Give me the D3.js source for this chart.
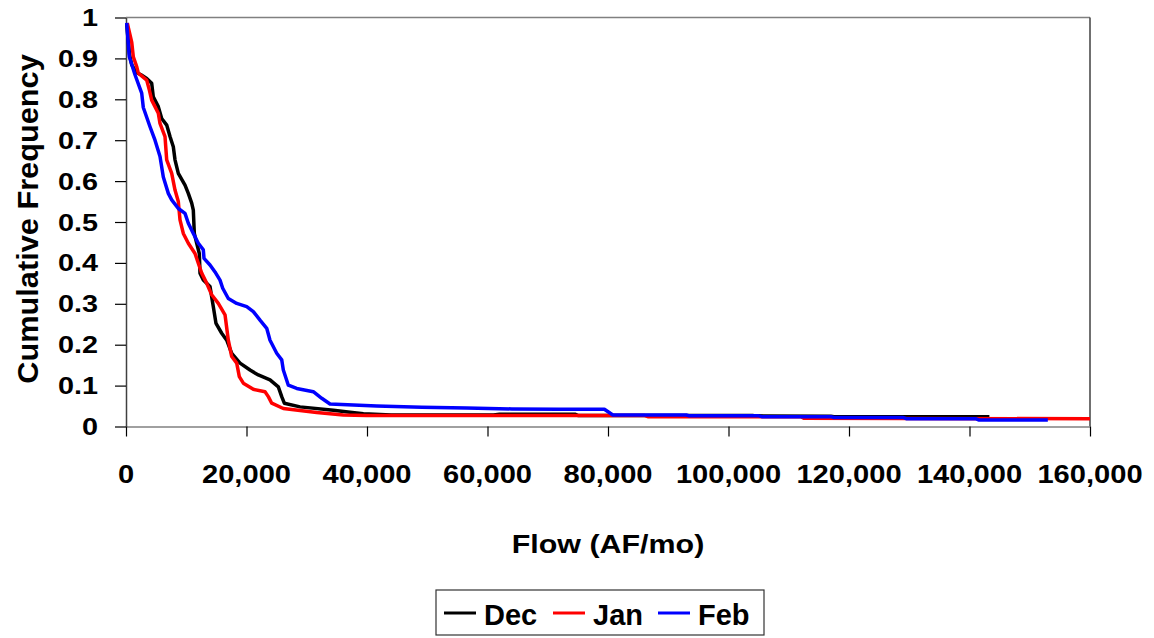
<!DOCTYPE html>
<html>
<head>
<meta charset="utf-8">
<script src="https://cdn.jsdelivr.net/npm/d3@7"></script>
<style>
  html, body { margin: 0; padding: 0; background: #fff; }
  svg { display: block; }
  text { font-family: "Liberation Sans", Arial, sans-serif; font-weight: bold; fill: #000; }
</style>
</head>
<body>
<svg id="chart" width="1154" height="638"></svg>
<script>
// Monthly flow exceedance curves (AF/mo) vs cumulative frequency
const decFlow = [116, 332, 581, 946, 1660, 2490, 3436, 4266, 4532, 5362, 5926, 6756, 7304, 7852, 8134, 8682,
  9794, 10342, 10906, 11172, 11338, 11736, 12168, 12284, 12832, 13944, 14492, 14940, 15886, 16716, 17546,
  18924, 20584, 21962, 23904, 25282, 25846, 26278, 28884, 34412, 37184, 39400, 44000, 61000, 62000, 74500,
  75000, 104000, 104500, 117000, 117500, 143300];
const decFreq = [0.985, 0.95, 0.91, 0.885, 0.866, 0.86, 0.851, 0.839, 0.806, 0.782, 0.753, 0.737, 0.709, 0.684,
  0.652, 0.619, 0.59, 0.57, 0.546, 0.529, 0.472, 0.448, 0.423, 0.375, 0.358, 0.342, 0.293, 0.252, 0.228, 0.211,
  0.179, 0.155, 0.138, 0.126, 0.114, 0.097, 0.073, 0.057, 0.048, 0.040, 0.035, 0.031, 0.028, 0.028, 0.030, 0.030,
  0.027, 0.027, 0.026, 0.025, 0.024, 0.024];

const janFlow = [216, 946, 1212, 1776, 2042, 3436, 3868, 4266, 5362, 5644, 6474, 6756, 7586, 8134, 8682, 8964,
  9512, 10342, 11454, 12002, 12566, 13396, 14226, 15322, 16434, 16982, 17546, 18376, 18808, 19472, 21132,
  23074, 23622, 24186, 26112, 31656, 36072, 39956, 86000, 86600, 112000, 112500, 160000];
const janFreq = [0.986, 0.94, 0.904, 0.88, 0.864, 0.847, 0.823, 0.798, 0.766, 0.741, 0.709, 0.652, 0.619, 0.578,
  0.55, 0.505, 0.472, 0.448, 0.423, 0.399, 0.375, 0.350, 0.322, 0.301, 0.273, 0.211, 0.171, 0.155, 0.122, 0.106,
  0.091, 0.085, 0.073, 0.057, 0.044, 0.034, 0.028, 0.027, 0.027, 0.024, 0.024, 0.020, 0.019];

const febFlow = [116, 548, 1494, 2606, 2872, 3984, 4814, 5644, 6192, 7022, 7586, 8682, 9794, 10342, 11172, 12002,
  12832, 12948, 13944, 14774, 15604, 16052, 16982, 18376, 20036, 21132, 22244, 23356, 23904, 25016, 25846,
  26112, 26942, 28336, 31092, 32486, 33864, 41616, 49086, 56556, 64026, 71764, 79400, 80800, 93000, 93500,
  105000, 105500, 117000, 117500, 129000, 129500, 141000, 141500, 153000];
const febFreq = [0.987, 0.904, 0.86, 0.815, 0.78, 0.733, 0.70, 0.66, 0.61, 0.57, 0.554, 0.533, 0.521, 0.497, 0.472,
  0.448, 0.432, 0.411, 0.395, 0.378, 0.358, 0.338, 0.313, 0.301, 0.293, 0.281, 0.260, 0.240, 0.211, 0.179, 0.163,
  0.138, 0.101, 0.093, 0.085, 0.069, 0.055, 0.050, 0.047, 0.045, 0.043, 0.042, 0.042, 0.028, 0.028, 0.026,
  0.026, 0.024, 0.024, 0.022, 0.022, 0.019, 0.019, 0.016, 0.016];

const seriesNames = ["Dec", "Jan", "Feb"];
const seriesColors = ["#000000", "#ff0000", "#0000ff"];
const xTicks = [0, 20000, 40000, 60000, 80000, 100000, 120000, 140000, 160000];
const yTicks = [0, 0.1, 0.2, 0.3, 0.4, 0.5, 0.6, 0.7, 0.8, 0.9, 1];
const xTitle = "Flow (AF/mo)";
const yTitle = "Cumulative Frequency";

const series = [
  { name: seriesNames[0], color: seriesColors[0], pts: decFlow.map((v, i) => [v, decFreq[i]]) },
  { name: seriesNames[1], color: seriesColors[1], pts: janFlow.map((v, i) => [v, janFreq[i]]) },
  { name: seriesNames[2], color: seriesColors[2], pts: febFlow.map((v, i) => [v, febFreq[i]]) }
];

const svg = d3.select("#chart");
const plot = { left: 126, right: 1090, top: 17.5, bottom: 426.5 };

const x = d3.scaleLinear().domain([0, 160000]).range([plot.left, plot.right]);
const y = d3.scaleLinear().domain([0, 1]).range([plot.bottom, plot.top]);

// plot frame (top and right edges)
svg.append("line").attr("x1", plot.left).attr("x2", plot.right).attr("y1", plot.top).attr("y2", plot.top)
  .attr("stroke", "#808080").attr("stroke-width", 1.5);
svg.append("line").attr("x1", plot.right).attr("x2", plot.right).attr("y1", plot.top).attr("y2", plot.bottom)
  .attr("stroke", "#404040").attr("stroke-width", 1.5);

// x axis
const xAxis = svg.append("g").attr("transform", `translate(0,${plot.bottom})`)
  .call(d3.axisBottom(x).tickValues(xTicks).tickSize(10).tickSizeOuter(0).tickFormat(""));
xAxis.select(".domain").attr("stroke", "#808080").attr("stroke-width", 1.5);
xAxis.selectAll(".tick line").attr("stroke", "#000").attr("stroke-width", 1.2);

// y axis
const yAxis = svg.append("g").attr("transform", `translate(${plot.left},0)`)
  .call(d3.axisLeft(y).tickValues(yTicks).tickSize(11).tickSizeOuter(0).tickFormat(""));
yAxis.select(".domain").attr("stroke", "#404040").attr("stroke-width", 1.5);
yAxis.selectAll(".tick line").attr("stroke", "#000").attr("stroke-width", 1.2);

// tick labels (slightly widened bold face)
const fmtX = d3.format(",");
svg.append("g").selectAll("text").data(xTicks).join("text")
  .attr("transform", d => `translate(${x(d)},483) scale(1.12,1)`)
  .attr("text-anchor", "middle").style("font-size", "26px")
  .text(d => fmtX(d));

svg.append("g").selectAll("text").data(yTicks).join("text")
  .attr("transform", d => `translate(98,${y(d) + 8.5}) scale(1.2,1)`)
  .attr("text-anchor", "end").style("font-size", "24px")
  .text(d => String(+d.toFixed(1)));

// axis titles
svg.append("text")
  .attr("transform", `translate(${(plot.left + plot.right) / 2},553) scale(1.17,1)`)
  .attr("text-anchor", "middle").style("font-size", "26px").text(xTitle);

svg.append("text")
  .attr("transform", `translate(38,${(plot.top + plot.bottom) / 2 - 3}) rotate(-90) scale(1.06,1)`)
  .attr("text-anchor", "middle").style("font-size", "29px").text(yTitle);

// curves
const line = d3.line().x(d => x(d[0])).y(d => y(d[1]));
svg.append("g").selectAll("path").data(series).join("path")
  .attr("d", d => line(d.pts))
  .attr("fill", "none")
  .attr("stroke", d => d.color)
  .attr("stroke-width", 3.5)
  .attr("stroke-linejoin", "round");

// legend
const legend = svg.append("g");
legend.append("rect").attr("x", 436).attr("y", 590).attr("width", 328).attr("height", 45)
  .attr("fill", "#fff").attr("stroke", "#333").attr("stroke-width", 1.2);
const legendX = [444, 553, 658];
series.forEach((s, i) => {
  legend.append("line").attr("x1", legendX[i]).attr("x2", legendX[i] + 32)
    .attr("y1", 613).attr("y2", 613).attr("stroke", s.color).attr("stroke-width", 3);
  legend.append("text").attr("x", legendX[i] + 40).attr("y", 625)
    .style("font-size", "29px").text(s.name);
});
</script>
</body>
</html>
